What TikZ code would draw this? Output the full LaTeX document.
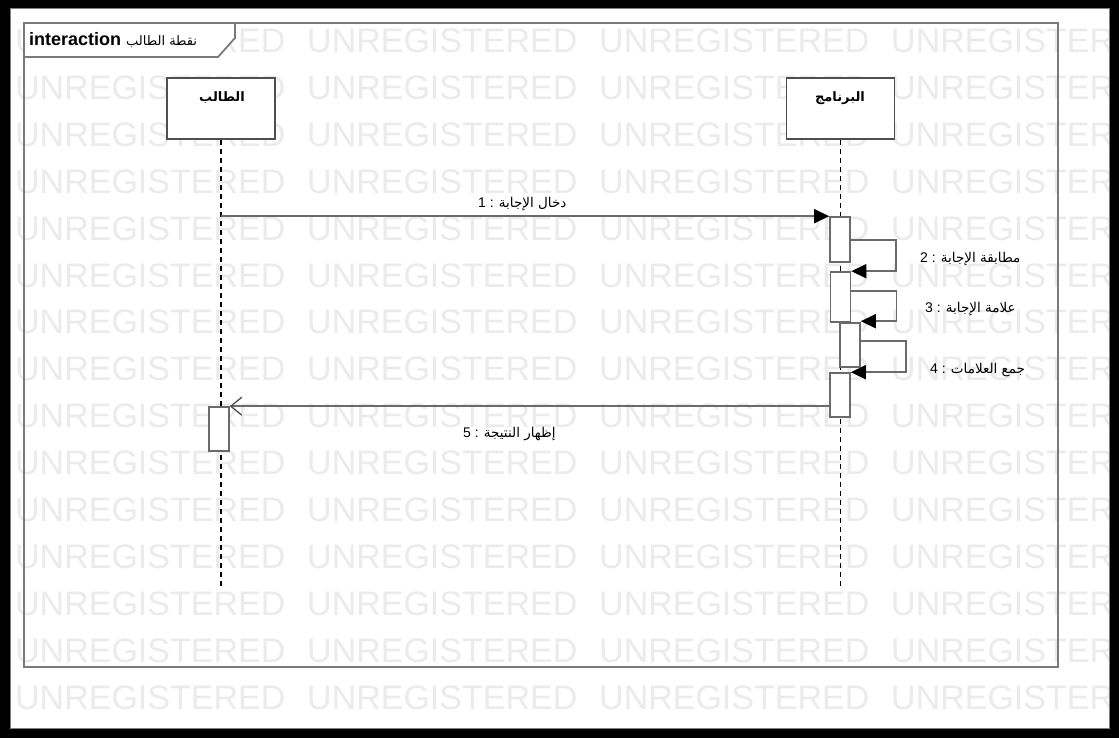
\documentclass[tikz,border=0pt]{standalone}
\usepackage{fontspec}
\setmainfont{Liberation Sans}
\newfontfamily\arabicfont[Script=Arabic]{DejaVu Sans}
\TeXXeTstate=1
\usetikzlibrary{arrows.meta}
\newcommand\artext[1]{{\arabicfont\beginR #1\endR}}
\definecolor{wm}{HTML}{EBEBEB}
\definecolor{framegray}{HTML}{7A7A7A}
\definecolor{boxgray}{HTML}{4F4F4F}
\definecolor{msggray}{HTML}{6A6A6A}
\begin{document}
\begin{tikzpicture}[x=1pt,y=-1pt,
  wmtext/.style={anchor=base west, inner sep=0pt, text=wm, font=\fontsize{34}{34}\selectfont},
  llbox/.style={draw=boxgray, fill=white, line width=1.6pt, minimum width=108pt, minimum height=61pt, inner sep=0pt},
  llname/.style={inner sep=0pt, font=\fontsize{13}{15}\selectfont\bfseries},
  lifeline/.style={draw=black, line width=1.1pt, dash pattern=on 5pt off 4pt},
  act/.style={draw=msggray, fill=white, line width=1.6pt, minimum width=20pt, inner sep=0pt},
  msg/.style={draw=msggray, line width=1.6pt},
  synch/.style={msg, -{Triangle[length=15pt,width=14pt,color=black]}},
  reply/.style={msg, -{Straight Barb[length=11pt,width=18pt,color=boxgray,line width=1.3pt]}},
  lbl/.style={anchor=base west, inner sep=0pt, font=\fontsize{14}{16}\selectfont},
  arlbl/.style={font=\fontsize{14}{16}\selectfont},
  framebox/.style={draw=framegray, line width=1.8pt}
]
\useasboundingbox (0,0) rectangle (1119,738);
\fill[white] (0,0) rectangle (1119,738);
% watermark
\begin{scope}
\clip (10,8) rectangle (1110,729);
\foreach \r in {0,...,14} {
  \foreach \c in {0,...,3} {
    \node[wmtext] (wm-\r-\c) at ({15+292*\c},{52.5+46.9*\r}) {UNREGISTERED};
  }
}
\end{scope}
% frame
\draw[framebox] (24,23) rectangle (1058,667);
\draw[framebox, fill=white] (24,23) -- (235,23) -- (235,38) -- (218,57) -- (24,57) -- cycle;
\node[anchor=base west, inner sep=0pt] (title) at (29,46)
  {\fontsize{18}{20}\selectfont\bfseries interaction \fontsize{13}{15}\selectfont\mdseries\artext{نقطة الطالب}};
% lifelines
\node[llbox] (p1) at (221,108.5) {};
\node[llbox] (p2) at (840.5,108.5) {};
\node[llname] (n1) at (222,98) {\artext{الطالب}};
\node[llname] (n2) at (840,98) {\artext{البرنامج}};
\coordinate (endl) at (0,587);
\draw[lifeline] (p1.south) -- (p1.south |- endl);
\draw[lifeline] (p2.south) -- (p2.south |- endl);
% activations
\node[act, minimum height=45pt] (a1) at (840,239.5) {};
\node[act, minimum height=50pt] (a2) at (840.5,297) {};
\node[act, minimum height=44pt] (a3) at (850,345) {};
\node[act, minimum height=44pt] (a4) at (840,395) {};
\node[act, minimum height=44pt] (a5) at (219,429) {};
% messages
\draw[synch] (p1 |- a1.north west) -- (a1.north west);
\draw[synch] ([yshift=-24pt]a1.north east) -- ++(45,0) |- (a2.north east);
\draw[synch] ([yshift=-20pt]a2.north east) -- ++(45,0) |- ([yshift=1pt]a3.north east);
\draw[synch] ([yshift=-19pt]a3.north east) -- ++(45,0) |- (a4.north east);
\draw[reply] (a4.west |- a5.north) -- (a5.north east);
% labels
\node[lbl] (m1) at (478,208) {1 : {\fontsize{13.5}{16}\selectfont\artext{دخال الإجابة}}};
\node[lbl] (m2) at (920,262) {2 : {\fontsize{13.5}{16}\selectfont\artext{مطابقة الإجابة}}};
\node[lbl] (m3) at (925,312) {3 : {\fontsize{13.5}{16}\selectfont\artext{علامة الإجابة}}};
\node[lbl] (m4) at (930,373) {4 : {\fontsize{13.5}{16}\selectfont\artext{جمع العلامات}}};
\node[lbl] (m5) at (463,437) {5 : {\fontsize{13.5}{16}\selectfont\artext{إظهار النتيجة}}};
% outer border
\fill[black, even odd rule] (0,0) rectangle (1119,738) (10,8) rectangle (1110,729);
\draw[gray, line width=1pt] (10.5,8.5) rectangle (1109.5,728.5);
\end{tikzpicture}
\end{document}
